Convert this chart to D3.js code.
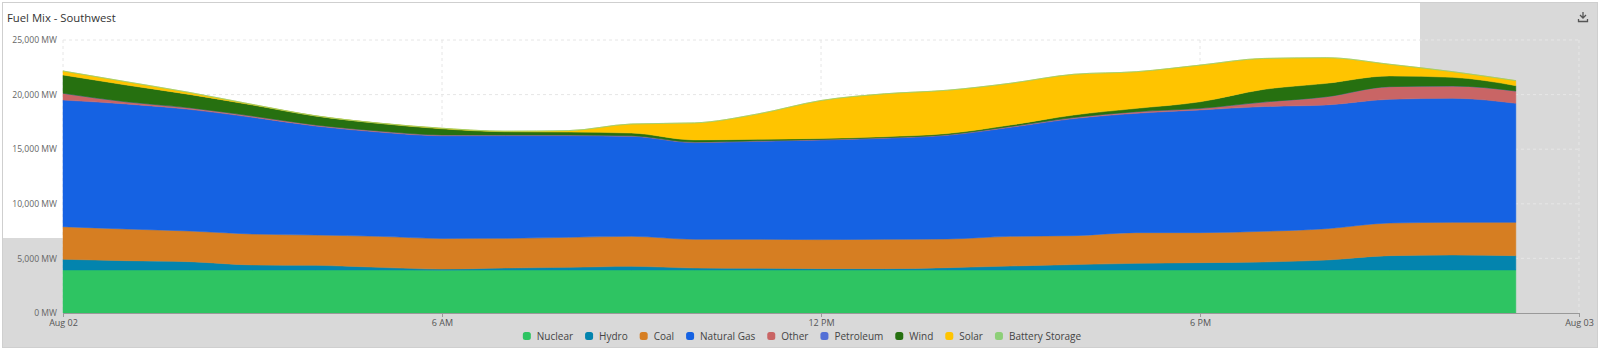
<!DOCTYPE html>
<meta charset="utf-8">
<head>
    <title>Fuel Mix - Southwest</title>
</head>
<style>
    body { margin: 0; background: #fff; }
    text { font-family: "Open Sans", "Noto Sans", sans-serif; }
</style>
<body>
    <svg id="chart"></svg>
    <script src="https://cdnjs.cloudflare.com/ajax/libs/d3/7.8.5/d3.min.js"></script>
    <script>

        // Data: hourly MW by fuel, Aug 02 00:00 .. 23:00
        var hours = d3.range(24);
        var fuels = ["Nuclear", "Hydro", "Coal", "Natural Gas", "Other", "Petroleum", "Wind", "Solar", "Battery Storage"];
        var colors = ["#2ec462", "#0384ae", "#d67e22", "#1562e3", "#c96565", "#5470d6", "#267010", "#ffc400", "#8dcf78"];

        var nuclear = [3940, 3940, 3940, 3940, 3940, 3940, 3920, 3940, 3940, 3940, 3940, 3940,
                       3940, 3940, 3940, 3940, 3940, 3940, 3940, 3940, 3940, 3940, 3940, 3940];
        var hydro = [980, 850, 760, 460, 430, 240, 100, 180, 240, 330, 180, 150,
                     120, 120, 210, 360, 490, 610, 670, 730, 910, 1310, 1370, 1310];
        var coal = [2980, 2900, 2810, 2830, 2770, 2840, 2810, 2720, 2750, 2750, 2630, 2660,
                    2660, 2690, 2630, 2720, 2650, 2810, 2750, 2810, 2870, 2990, 2990, 3050];
        var naturalGas = [11600, 11450, 11140, 10690, 9980, 9550, 9400, 9400, 9310, 9160, 8850, 8970,
                          9120, 9250, 9490, 9980, 10720, 10930, 11230, 11420, 11330, 11330, 11360, 10900];
        var other = [620, 200, 150, 120, 100, 100, 80, 60, 60, 50, 50, 50,
                     50, 50, 60, 80, 100, 150, 150, 420, 760, 1160, 1130, 1130];
        var petroleum = [0, 0, 0, 0, 0, 0, 0, 0, 0, 0, 0, 0,
                         0, 0, 0, 0, 0, 0, 0, 0, 0, 0, 0, 0];
        var wind = [1680, 1540, 1220, 1010, 820, 700, 560, 300, 270, 250, 200, 140,
                    90, 90, 100, 130, 230, 300, 600, 1150, 1220, 980, 790, 490];
        var solar = [360, 300, 180, 50, 20, 20, 50, 50, 130, 830, 1560, 2320,
                     3480, 3930, 3970, 3830, 3730, 3360, 3360, 2840, 2350, 1070, 520, 460];
        var batteryStorage = [0, 0, 0, 0, 0, 0, 0, 0, 0, 0, 0, 0,
                              0, 0, 0, 0, 0, 0, 0, 0, 0, 0, 0, 0];

        var yTicks = [0, 5000, 10000, 15000, 20000, 25000];

        // Configuration
        var width = 1600;
        var height = 352;
        var plot = { left: 63, right: 1579, top: 40, bottom: 313 };

        var series = [nuclear, hydro, coal, naturalGas, other, petroleum, wind, solar, batteryStorage];
        var rows = hours.map(function (h) {
            var r = { date: new Date(2023, 7, 2, h) };
            fuels.forEach(function (f, k) { r[f] = series[k][h]; });
            return r;
        });

        var svg = d3.select('#chart').attr('width', width).attr('height', height);

        // card background
        svg.append('rect').attr('x', 2.5).attr('y', 2.5).attr('width', 1595).attr('height', 345)
            .attr('fill', '#d9d9d9').attr('stroke', '#cfcfcf');
        svg.append('rect').attr('x', 3).attr('y', 3).attr('width', 1417).attr('height', 235)
            .attr('fill', '#fff');

        // title
        svg.append('text').attr('x', 7).attr('y', 22)
            .attr('font-size', 11.3).attr('fill', '#333').text('Fuel Mix - Southwest');

        // download icon
        var icon = svg.append('g').attr('transform', 'translate(1583, 12)')
            .attr('fill', 'none').attr('stroke', '#555').attr('stroke-width', 1.3);
        icon.append('path').attr('d', 'M0,0 V6 M-3,3 L0,6 L3,3');
        icon.append('path').attr('d', 'M-4.5,7 V9.5 H4.5 V7');

        var x = d3.scaleTime()
            .domain([new Date(2023, 7, 2), new Date(2023, 7, 3)])
            .range([plot.left, plot.right]);
        var y = d3.scaleLinear().domain([0, 25000]).range([plot.bottom, plot.top]);

        // grid
        var grid = svg.append('g').attr('stroke', '#e6e6e6').attr('stroke-dasharray', '3,3');
        grid.selectAll('line.h').data(yTicks.slice(1)).enter().append('line')
            .attr('x1', plot.left).attr('x2', plot.right)
            .attr('y1', d => y(d)).attr('y2', d => y(d));
        var xTicks = x.ticks(d3.timeHour.every(6));
        grid.selectAll('line.v').data(xTicks).enter().append('line')
            .attr('x1', d => x(d)).attr('x2', d => x(d))
            .attr('y1', plot.top).attr('y2', plot.bottom);

        // stacked areas
        var stack = d3.stack().keys(fuels);
        var layers = stack(rows);
        var area = d3.area()
            .curve(d3.curveMonotoneX)
            .x(d => x(d.data.date))
            .y0(d => y(d[0]))
            .y1(d => y(d[1]));
        svg.append('g').selectAll('path')
            .data(layers).enter().append('path')
            .attr('d', area)
            .attr('fill', (d, i) => colors[i])
            .attr('stroke', (d, i) => colors[i])
            .attr('stroke-width', 0.5);

        // y axis
        var yAxis = svg.append('g').attr('transform', `translate(${plot.left},0)`)
            .call(d3.axisLeft(y).tickValues(yTicks).tickSize(0).tickPadding(6)
                .tickFormat(d => d3.format(',')(d) + ' MW'));
        yAxis.select('.domain').remove();
        yAxis.selectAll('text').attr('font-size', 8.6).attr('fill', '#666')
            .style('font-family', '"Open Sans", sans-serif');

        // x axis
        var fmt = function (d) {
            if (d.getHours() === 0) return d3.timeFormat('%b %d')(d);
            return d3.timeFormat('%-I %p')(d);
        };
        var xAxis = svg.append('g').attr('transform', `translate(0,${plot.bottom})`)
            .call(d3.axisBottom(x).tickValues(xTicks).tickSize(4).tickPadding(3).tickFormat(fmt));
        xAxis.select('.domain').attr('stroke', '#999');
        xAxis.selectAll('.tick line').attr('stroke', '#999');
        xAxis.selectAll('text').attr('font-size', 9).attr('fill', '#555')
            .style('font-family', '"Open Sans", sans-serif');

        // legend
        var legend = svg.append('g').attr('transform', 'translate(0,336)');
        var items = legend.selectAll('g').data(fuels).enter().append('g');
        items.append('rect').attr('width', 8).attr('height', 8).attr('rx', 2.5)
            .attr('y', -4).attr('fill', (d, i) => colors[i]);
        items.append('text').attr('x', 14).attr('dy', '0.35em')
            .attr('font-size', 10).attr('fill', '#444').text(d => d);
        var pos = 0, offs = [];
        items.each(function () {
            offs.push(pos);
            pos += 14 + this.querySelector('text').getComputedTextLength() + 12;
        });
        var start = 802 - (pos - 12) / 2;
        items.attr('transform', (d, i) => `translate(${start + offs[i]},0)`);

    </script>
</body>
</html>
